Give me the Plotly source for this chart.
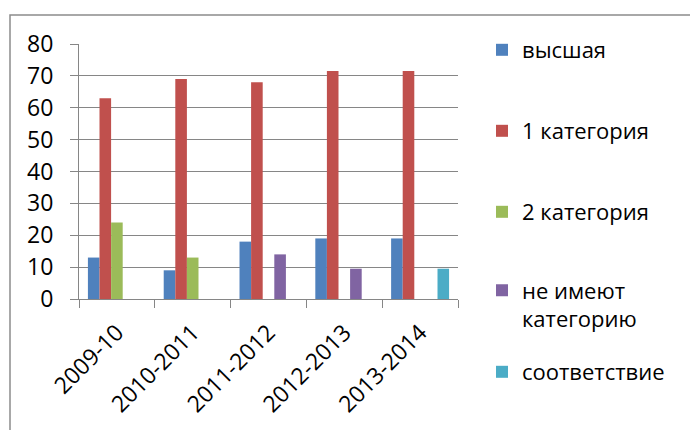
import plotly.graph_objects as go

years = ["2009-10", "2010-2011", "2011-2012", "2012-2013", "2013-2014"]
vysshaya = [13, 9, 18, 19, 19]
kat1 = [63, 69, 68, 71.5, 71.5]
kat2 = [24, 13, None, None, None]
ne_imeyut = [None, None, 14, 9.5, None]
sootvetstvie = [None, None, None, None, 9.5]

series_names = ["высшая", "1 категория", "2 категория", "не имеют<br>категорию", "соответствие"]
series_values = [vysshaya, kat1, kat2, ne_imeyut, sootvetstvie]
colors = ["#4F81BD", "#C0504D", "#9BBB59", "#8064A2", "#4BACC6"]
legend_ids = ["legend", "legend2", "legend3", "legend4", "legend5"]
legend_y_px = [50, 131, 212, 305, 372]

W, H = 690, 430
L, R, T, B = 79, 232, 44, 131
FONT = "Open Sans"

fig = go.Figure()
for name, vals, col, lg in zip(series_names, series_values, colors, legend_ids):
    fig.add_trace(go.Bar(x=years, y=vals, name=name, marker=dict(color=col, line=dict(width=0)),
                         legend=lg))

layout_legends = {}
for lg, ypx in zip(legend_ids, legend_y_px):
    layout_legends[lg] = dict(
        x=482 / W, xref="container", xanchor="left",
        y=1 - ypx / H, yref="container", yanchor="middle",
        font=dict(family=FONT, size=22, color="#000000"),
        bgcolor="rgba(0,0,0,0)", valign="top", itemwidth=30,
    )

grid_col = "#868686"
fig.update_layout(
    width=W, height=H,
    margin=dict(l=L, r=R, t=T, b=B, autoexpand=False),
    paper_bgcolor="white", plot_bgcolor="white",
    barmode="group", bargap=0.235, bargroupgap=0,
    showlegend=True,
    font=dict(family=FONT, color="#000000"),
    xaxis=dict(
        type="category", tickson="boundaries", ticks="outside", ticklen=8,
        tickcolor=grid_col, tickwidth=1, showline=True, linecolor=grid_col, linewidth=1,
        showgrid=False, tickangle=-45, tickfont=dict(family=FONT, size=23, color="#000000"),
        mirror=False, ticklabelstandoff=10,
    ),
    yaxis=dict(
        range=[0, 80], tickmode="array", tickvals=[0, 10, 20, 30, 40, 50, 60, 70, 80],
        ticks="outside", ticklen=8, tickcolor=grid_col, tickwidth=1,
        showline=True, linecolor=grid_col, linewidth=1,
        showgrid=True, gridcolor=grid_col, gridwidth=1, zeroline=False,
        tickfont=dict(family=FONT, size=23, color="#000000"),
        ticklabelstandoff=12,
    ),
    shapes=[dict(
        type="rect", xref="paper", yref="paper",
        x0=(10 - L) / (W - L - R), x1=(W + 20 - L) / (W - L - R),
        y0=-0.8, y1=(H - B - 15) / (H - T - B),
        line=dict(color="#8C8C8C", width=1.5), fillcolor="rgba(0,0,0,0)", layer="below",
    )],
    **layout_legends,
)

fig.write_html("out.html", config={"displayModeBar": False},
               post_script="document.body.style.margin='0px';")
